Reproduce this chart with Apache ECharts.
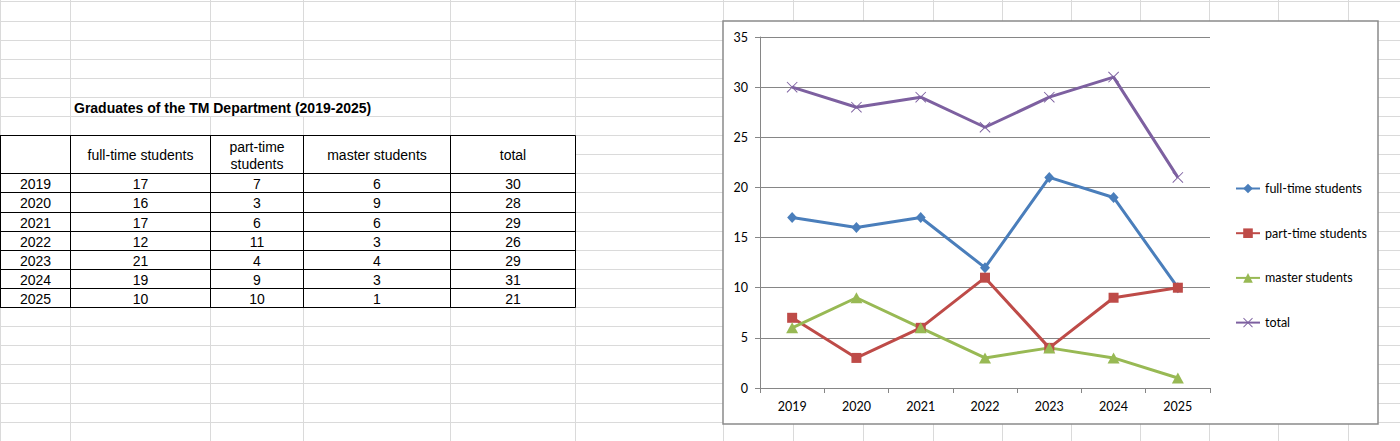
<!DOCTYPE html>
<html>
<head>
<meta charset="utf-8">
<script src="https://cdn.jsdelivr.net/npm/echarts@6/dist/echarts.min.js"></script>
<style>
html,body{margin:0;padding:0;background:#fff;}
#main{width:1400px;height:441px;}
</style>
</head>
<body>
<div id="main"></div>
<script>
// ---- data ----
const years = ['2019', '2020', '2021', '2022', '2023', '2024', '2025'];
const fullTime = [17, 16, 17, 12, 21, 19, 10];
const partTime = [7, 3, 6, 11, 4, 9, 10];
const master = [6, 9, 6, 3, 4, 3, 1];
const total = [30, 28, 29, 26, 29, 31, 21];
const seriesNames = ['full-time students', 'part-time students', 'master students', 'total'];
const tableTitle = 'Graduates of the TM Department (2019-2025)';
const tableHeaders = ['', 'full-time students', 'part-time\nstudents', 'master students', 'total'];

// ---- layout helpers ----
const colX = [0.5, 70.5, 210.5, 303.5, 450.5, 575.5, 723.5, 793.5, 863.5, 933.5, 1002.5, 1071.5, 1140.5, 1209.5, 1278.5, 1348.5];
const rowY = k => Math.round(1.4 + 19.1 * k) + 0.5;
const gridColor = '#dadada';
const tableFont = '14px "Liberation Sans", Arial, sans-serif';
const chartFont = 'Lato';

const graphics = [];
// spreadsheet gridlines
for (let k = 0; k <= 23; k++) {
  graphics.push({type: 'line', z: -20, silent: true,
    shape: {x1: 0, y1: rowY(k), x2: 1400, y2: rowY(k)}, style: {stroke: gridColor, lineWidth: 1}});
}
colX.forEach((x, i) => {
  if (i === 2 || i === 3) {
    graphics.push({type: 'line', z: -20, silent: true, shape: {x1: x, y1: 0, x2: x, y2: rowY(5)}, style: {stroke: gridColor, lineWidth: 1}});
    graphics.push({type: 'line', z: -20, silent: true, shape: {x1: x, y1: rowY(6), x2: x, y2: 441}, style: {stroke: gridColor, lineWidth: 1}});
  } else {
    graphics.push({type: 'line', z: -20, silent: true, shape: {x1: x, y1: 0, x2: x, y2: 441}, style: {stroke: gridColor, lineWidth: 1}});
  }
});
graphics.push({type: 'rect', z: -19, silent: true,
  shape: {x: 71, y: rowY(5) + 0.5, width: 379, height: rowY(6) - rowY(5) - 1}, style: {fill: '#fff'}});
graphics.push({type: 'text', z: -5, silent: true,
  style: {text: tableTitle, x: 74, y: (rowY(5) + rowY(6)) / 2 + 0.5, font: 'bold ' + tableFont, fill: '#000', textAlign: 'left', textVerticalAlign: 'middle'}});

// table
const tTop = rowY(7), hBot = rowY(9), tBot = rowY(16);
const tCols = colX.slice(0, 6);
graphics.push({type: 'rect', z: -19, silent: true,
  shape: {x: 0, y: tTop, width: tCols[5], height: tBot - tTop}, style: {fill: '#fff'}});
const tableH = [tTop];
for (let k = 9; k <= 16; k++) tableH.push(rowY(k));
tableH.forEach(y => graphics.push({type: 'line', z: -6, silent: true,
  shape: {x1: 0, y1: y, x2: tCols[5], y2: y}, style: {stroke: '#000', lineWidth: 1}}));
tCols.forEach(x => graphics.push({type: 'line', z: -6, silent: true,
  shape: {x1: x, y1: tTop, x2: x, y2: tBot}, style: {stroke: '#000', lineWidth: 1}}));
const colCenter = i => (tCols[i] + tCols[i + 1]) / 2;
tableHeaders.forEach((h, i) => {
  if (!h) return;
  graphics.push({type: 'text', z: -5, silent: true,
    style: {text: h, x: colCenter(i), y: (tTop + hBot) / 2 + 0.5, font: tableFont, fill: '#000', textAlign: 'center', textVerticalAlign: 'middle', lineHeight: 17}});
});
const tableCols = [years, fullTime, partTime, master, total];
years.forEach((yr, r) => {
  const yc = (rowY(9 + r) + rowY(10 + r)) / 2 + 0.5;
  tableCols.forEach((col, i) => {
    graphics.push({type: 'text', z: -5, silent: true,
      style: {text: String(col[r]), x: colCenter(i), y: yc, font: tableFont, fill: '#000', textAlign: 'center', textVerticalAlign: 'middle'}});
  });
});

// chart frame
graphics.push({type: 'rect', z: -10, silent: true,
  shape: {x: 723, y: 21, width: 655, height: 403},
  style: {fill: '#fff', stroke: '#8a8a8a', lineWidth: 1.5}});

const xMark = 'path://M0,1.2L1.2,0L20,18.8L18.8,20Z M18.8,0L20,1.2L1.2,20L0,18.8Z';
const axisGrey = '#868686';

const chart = echarts.init(document.getElementById('main'), null, {renderer: 'svg'});
chart.setOption({
  animation: false,
  backgroundColor: '#fff',
  graphic: {elements: graphics},
  grid: {left: 760, right: 190, top: 37, bottom: 53, containLabel: false},
  legend: {
    orient: 'vertical', left: 1230, top: 177, itemWidth: 24, itemHeight: 12, itemGap: 31.7,
    textStyle: {fontFamily: chartFont, fontSize: 12.5, color: '#000'},
    data: seriesNames
  },
  xAxis: {
    type: 'category', data: years, boundaryGap: true,
    axisLine: {lineStyle: {color: axisGrey, width: 1}},
    axisTick: {show: true, length: 5, inside: false, lineStyle: {color: axisGrey}},
    axisLabel: {fontFamily: chartFont, fontSize: 12.5, color: '#000', margin: 12},
    splitLine: {show: false}
  },
  yAxis: {
    type: 'value', min: 0, max: 35, interval: 5,
    axisLine: {show: true, lineStyle: {color: axisGrey, width: 1}},
    axisTick: {show: true, length: 5, inside: false, lineStyle: {color: axisGrey}},
    axisLabel: {fontFamily: chartFont, fontSize: 12.5, color: '#000', margin: 12},
    splitLine: {show: true, lineStyle: {color: axisGrey, width: 1}}
  },
  series: [
    {name: seriesNames[0], type: 'line', data: fullTime, symbol: 'diamond', symbolSize: [10, 11],
     lineStyle: {width: 3, color: '#4A7EBB'}, itemStyle: {color: '#4A7EBB'}},
    {name: seriesNames[1], type: 'line', data: partTime, symbol: 'rect', symbolSize: 10,
     lineStyle: {width: 3, color: '#BE4B48'}, itemStyle: {color: '#BE4B48'}},
    {name: seriesNames[2], type: 'line', data: master, symbol: 'triangle', symbolSize: [12, 11],
     lineStyle: {width: 3, color: '#98B954'}, itemStyle: {color: '#98B954'}},
    {name: seriesNames[3], type: 'line', data: total, symbol: xMark, symbolSize: 11,
     lineStyle: {width: 3, color: '#7D60A0'}, itemStyle: {color: '#7D60A0'}}
  ]
});
</script>
</body>
</html>
